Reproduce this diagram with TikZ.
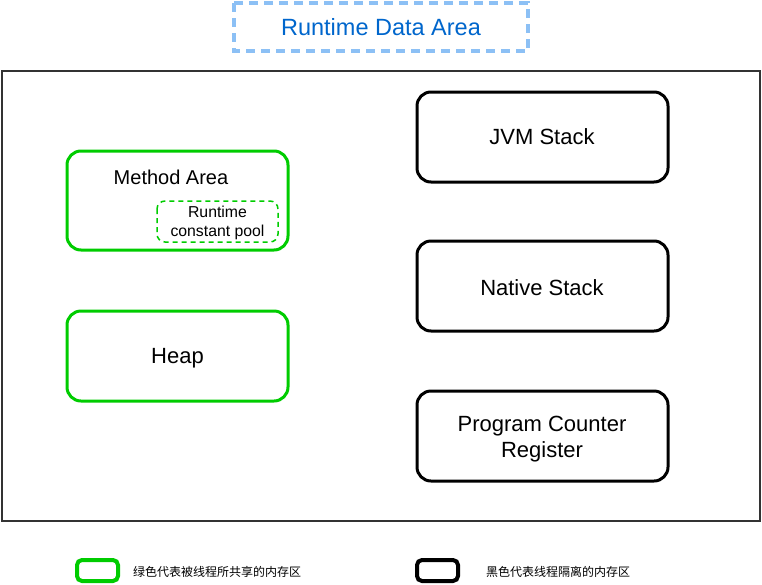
\documentclass[tikz,border=0pt]{standalone}
\usepackage{fontspec}
\setmainfont{Liberation Sans}
\newfontfamily\cjk{Noto Sans CJK SC}
\definecolor{sharegreen}{RGB}{0,204,0}
\definecolor{titleblue}{RGB}{0,102,204}
\definecolor{dashblue}{RGB}{140,192,245}
\begin{document}
\begin{tikzpicture}[x=1pt,y=-1pt,
  greenbox/.style={draw=sharegreen,line width=3pt,rounded corners=14pt},
  blackbox/.style={draw=black,line width=3pt,rounded corners=14pt},
  lbl/.style={font=\fontsize{22}{26}\selectfont,align=center,inner sep=0pt},
  legtext/.style={font=\cjk\fontsize{12}{14}\selectfont,anchor=west,inner sep=0pt}]
\useasboundingbox (0,0) rectangle (762,584);
% title
\draw[draw=dashblue,line width=3.2pt,dash pattern=on 9pt off 6pt] (234,3) rectangle (528,51);
\node[inner sep=0pt,text=titleblue,font=\fontsize{23.5}{28}\selectfont] (title) at (381,27) {Runtime Data Area};
% outer frame
\draw[draw=black!80,line width=2.2pt] (2,71) rectangle (760,521);
% left: shared areas
\draw[greenbox] (67,151) rectangle (288,250);
\node[inner sep=0pt,font=\fontsize{20}{24}\selectfont] (ma) at (171,177) {Method Area};
\draw[draw=sharegreen,line width=1.5pt,dash pattern=on 5pt off 4pt,rounded corners=8pt] (157,201) rectangle (278,242);
\node[inner sep=0pt,align=center,font=\fontsize{15.8}{19.5}\selectfont] (rcp) at (217.5,223) {Runtime\\constant pool};
\draw[greenbox] (67,311) rectangle (288,401);
\node[lbl] (heap) at (177.5,358) {Heap};
% right: thread-private areas
\draw[blackbox] (417,92) rectangle (668,182);
\node[lbl] (jvm) at (542,137) {JVM Stack};
\draw[blackbox] (417,241) rectangle (668,331);
\node[lbl] (native) at (542,287.5) {Native Stack};
\draw[blackbox] (417,391) rectangle (668,481);
\node[lbl] (pc) at (542,439.5) {Program Counter\\Register};
% legend
\draw[draw=sharegreen,line width=4pt,rounded corners=5pt] (77,560) rectangle (118,581);
\node[legtext] (lg) at (133,572) {绿色代表被线程所共享的内存区};
\draw[draw=black,line width=4pt,rounded corners=5pt] (417,560) rectangle (458,581);
\node[legtext] (lb) at (486,572) {黑色代表线程隔离的内存区};
\end{tikzpicture}
\end{document}
